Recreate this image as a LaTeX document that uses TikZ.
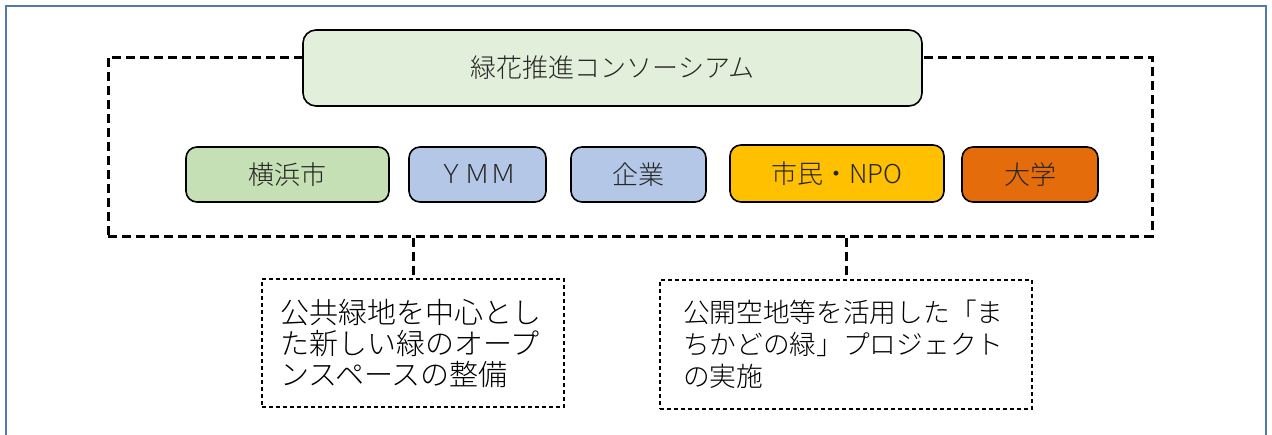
\documentclass[tikz,border=0pt]{standalone}
\usepackage{fontspec}
\setmainfont{Noto Sans CJK JP}[UprightFont={* Light}]
\usetikzlibrary{positioning}
\definecolor{framedraw}{HTML}{527AAA}
\definecolor{consfill}{HTML}{E2EFDA}
\definecolor{cityfill}{HTML}{C5E0B4}
\definecolor{bluefill}{HTML}{B4C7E7}
\definecolor{citizenfill}{HTML}{FFC000}
\definecolor{univfill}{HTML}{E46C0A}
\definecolor{labeltext}{HTML}{262626}

\begin{document}
\begin{tikzpicture}[
    x=1pt, y=-1pt,
    frame/.style={draw=framedraw, line width=2pt},
    group/.style={draw, dash pattern=on 9pt off 5pt, line width=3pt,
                  inner sep=0pt},
    base/.style={rectangle, rounded corners=11pt, draw=black, line width=1.6pt,
                 minimum height=55pt, inner sep=0pt, text=labeltext,
                 font=\fontsize{26}{30}\selectfont},
    member/.style={base, fill=#1},
    project/.style={draw, dash pattern=on 4pt off 3pt, line width=1.1pt,
                    align=left, inner ysep=0pt},
    link/.style={draw, dash pattern=on 9pt off 5pt, line width=3pt},
]
\useasboundingbox (0,0) rectangle (1272,434);
\draw[frame] (6,6) rectangle (1266,450);

% ---------------- consortium ----------------
\node[group, minimum width=1044pt, minimum height=179pt] (grp) at (630,146.5) {};
\node[base, fill=consfill, minimum width=619pt, minimum height=76pt,
      rounded corners=13pt] (cons) at (612.5,68) {緑花推進コンソーシアム};

% ---------------- members ----------------
\node[member=cityfill, minimum width=203pt] (city) at (287.5,174.5) {横浜市};
\node[member=bluefill, minimum width=137pt] (ymm) at (477.5,174.5) {ＹＭＭ};
\node[member=bluefill, minimum width=135pt] (firm) at (638.5,174.5) {企業};
\node[member=citizenfill, minimum width=214pt, minimum height=57pt]
  (citizen) at (837,173.5) {市民・NPO};
\node[member=univfill, minimum width=136pt] (univ) at (1030,174.5) {大学};

% ---------------- projects ----------------
\node[project, minimum width=302pt, minimum height=128pt, text width=266pt,
      inner xsep=18pt, font=\fontsize{29}{31}\selectfont] (open) at (413,343)
  {公共緑地を中心とし\\た新しい緑のオープ\\ンスペースの整備};
\node[project, minimum width=372pt, minimum height=129pt, text width=326pt,
      inner xsep=23pt, font=\fontsize{26.7}{32}\selectfont] (corner) at (846,344.5)
  {公開空地等を活用した「ま\\ちかどの緑」プロジェクト\\の実施};

\draw[link] (grp.south -| open.north) -- (open.north);
\draw[link] (grp.south -| corner.north) -- (corner.north);
\end{tikzpicture}
\end{document}
